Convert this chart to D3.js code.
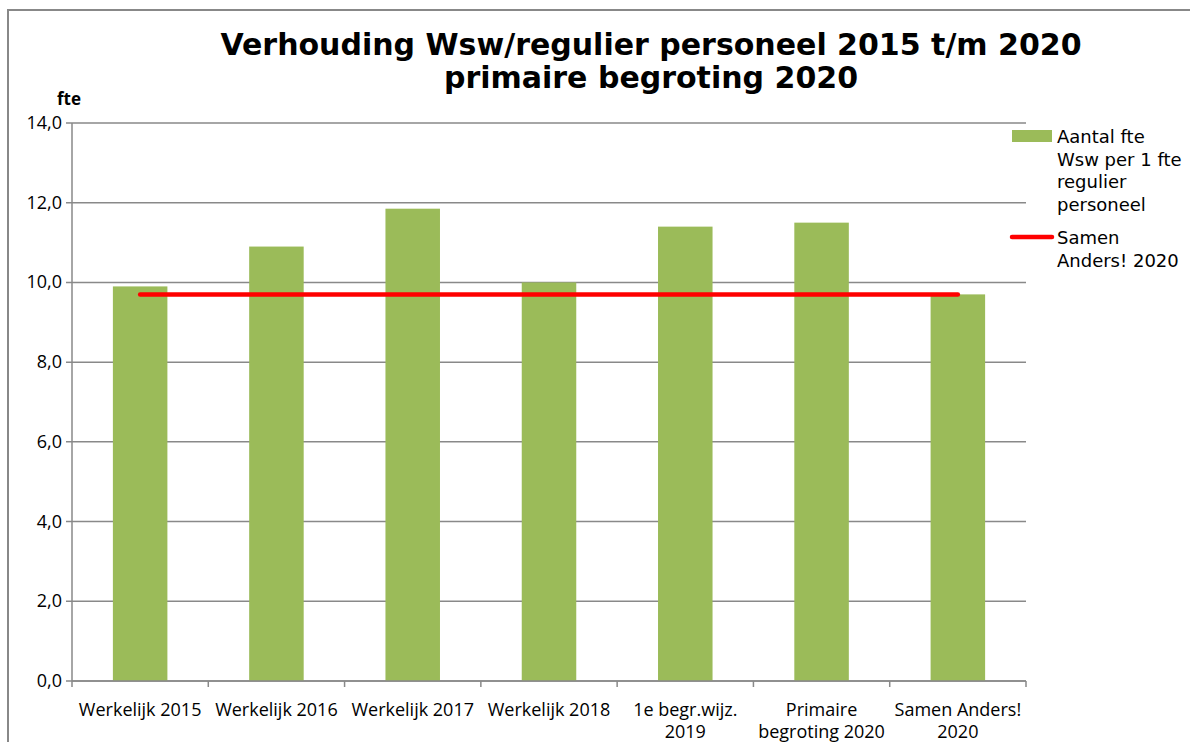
<!DOCTYPE html>
<html>
<head>
<meta charset="utf-8">
<script src="https://cdn.jsdelivr.net/npm/d3@7"></script>
<style>
  body { margin: 0; background: #fff; }
  svg { display: block; }
</style>
</head>
<body>
<svg id="chart"></svg>
<script>
const categories = [
    ["Werkelijk 2015"],
    ["Werkelijk 2016"],
    ["Werkelijk 2017"],
    ["Werkelijk 2018"],
    ["1e begr.wijz.", "2019"],
    ["Primaire", "begroting 2020"],
    ["Samen Anders!", "2020"]
];
const fteValues = [9.9, 10.9, 11.85, 10.0, 11.4, 11.5, 9.7];
const targetValues = [9.7, 9.7, 9.7, 9.7, 9.7, 9.7, 9.7];
const yTicks = [0, 2, 4, 6, 8, 10, 12, 14];
const titleLines = ["Verhouding Wsw/regulier personeel 2015 t/m 2020", "primaire begroting 2020"];
const legendBar = ["Aantal fte", "Wsw per 1 fte", "regulier", "personeel"];
const legendLine = ["Samen", "Anders! 2020"];

const width = 1190;
const height = 742;
const margin = { top: 123, right: 164, bottom: 61, left: 72 };

const svg = d3.select("#chart")
    .attr("width", width)
    .attr("height", height);

// outer frame
svg.append("rect")
    .attr("x", 8).attr("y", 10)
    .attr("width", width + 10).attr("height", height + 10)
    .attr("fill", "none")
    .attr("stroke", "#888")
    .attr("stroke-width", 2);

const xScale = d3.scaleBand()
    .domain(d3.range(categories.length))
    .range([margin.left, width - margin.right])
    .paddingInner(0.6)
    .paddingOuter(0.3);

const yScale = d3.scaleLinear()
    .domain([0, 14])
    .range([height - margin.bottom, margin.top]);

// gridlines
svg.append("g")
    .selectAll("line")
    .data(yTicks)
    .enter()
    .append("line")
    .attr("x1", margin.left - 6)
    .attr("x2", width - margin.right)
    .attr("y1", d => yScale(d))
    .attr("y2", d => yScale(d))
    .attr("stroke", "#898989")
    .attr("stroke-width", 1.5);

// y labels
svg.append("g")
    .selectAll("text")
    .data(yTicks)
    .enter()
    .append("text")
    .attr("x", margin.left - 10)
    .attr("y", d => yScale(d) + 6)
    .attr("text-anchor", "end")
    .attr("font-family", "'Open Sans', sans-serif")
    .attr("font-size", 18)
    .attr("fill", "#000")
    .text(d => d3.format(".1f")(d).replace(".", ","));

// bars
svg.append("g")
    .selectAll("rect")
    .data(fteValues)
    .enter()
    .append("rect")
    .attr("x", (d, i) => xScale(i))
    .attr("y", d => yScale(d))
    .attr("width", xScale.bandwidth())
    .attr("height", d => yScale(0) - yScale(d))
    .attr("fill", "#9BBB59");

// y axis line
svg.append("line")
    .attr("x1", margin.left).attr("x2", margin.left)
    .attr("y1", yScale(14)).attr("y2", yScale(0))
    .attr("stroke", "#898989")
    .attr("stroke-width", 1.5);

// x axis line + ticks
const x0 = margin.left;
const x1 = width - margin.right;
svg.append("line")
    .attr("x1", x0).attr("x2", x1)
    .attr("y1", yScale(0)).attr("y2", yScale(0))
    .attr("stroke", "#898989")
    .attr("stroke-width", 1.5);

svg.append("g")
    .selectAll("line")
    .data(d3.range(categories.length + 1))
    .enter()
    .append("line")
    .attr("x1", i => x0 + (x1 - x0) * i / categories.length)
    .attr("x2", i => x0 + (x1 - x0) * i / categories.length)
    .attr("y1", yScale(0))
    .attr("y2", yScale(0) + 6)
    .attr("stroke", "#898989")
    .attr("stroke-width", 1.5);

// category labels
const catText = svg.append("g")
    .selectAll("text")
    .data(categories)
    .enter()
    .append("text")
    .attr("x", (d, i) => xScale(i) + xScale.bandwidth() / 2)
    .attr("y", 716)
    .attr("text-anchor", "middle")
    .attr("font-family", "'Open Sans', sans-serif")
    .attr("font-size", 18)
    .attr("fill", "#000");

catText.selectAll("tspan")
    .data(d => d)
    .enter()
    .append("tspan")
    .attr("x", function () { return d3.select(this.parentNode).attr("x"); })
    .attr("dy", (d, i) => i === 0 ? 0 : 22)
    .text(d => d);

// target line
const line = d3.line()
    .x((d, i) => xScale(i) + xScale.bandwidth() / 2)
    .y(d => yScale(d));

svg.append("path")
    .datum(targetValues)
    .attr("d", line)
    .attr("fill", "none")
    .attr("stroke", "#FF0000")
    .attr("stroke-width", 4.5)
    .attr("stroke-linecap", "round");

// title
svg.append("g")
    .selectAll("text")
    .data(titleLines)
    .enter()
    .append("text")
    .attr("x", 651)
    .attr("y", (d, i) => 55 + i * 33)
    .attr("text-anchor", "middle")
    .attr("font-family", "'DejaVu Sans', Verdana, sans-serif")
    .attr("font-weight", "bold")
    .attr("font-size", 30)
    .attr("fill", "#000")
    .text(d => d);

// y unit
svg.append("text")
    .attr("x", 57)
    .attr("y", 105)
    .attr("font-family", "'Open Sans', sans-serif")
    .attr("font-weight", "bold")
    .attr("font-size", 17)
    .text("fte");

// legend
svg.append("rect")
    .attr("x", 1012).attr("y", 130)
    .attr("width", 40).attr("height", 12)
    .attr("fill", "#9BBB59");

svg.append("text")
    .attr("font-family", "'DejaVu Sans', Verdana, sans-serif")
    .attr("font-size", 18)
    .selectAll("tspan")
    .data(legendBar)
    .enter()
    .append("tspan")
    .attr("x", 1057)
    .attr("y", (d, i) => 143 + i * 22.7)
    .text(d => d);

svg.append("line")
    .attr("x1", 1012).attr("x2", 1052)
    .attr("y1", 237).attr("y2", 237)
    .attr("stroke", "#FF0000")
    .attr("stroke-width", 4.5)
    .attr("stroke-linecap", "round");

svg.append("text")
    .attr("font-family", "'DejaVu Sans', Verdana, sans-serif")
    .attr("font-size", 18)
    .selectAll("tspan")
    .data(legendLine)
    .enter()
    .append("tspan")
    .attr("x", 1057)
    .attr("y", (d, i) => 244 + i * 23)
    .text(d => d);
</script>
</body>
</html>
